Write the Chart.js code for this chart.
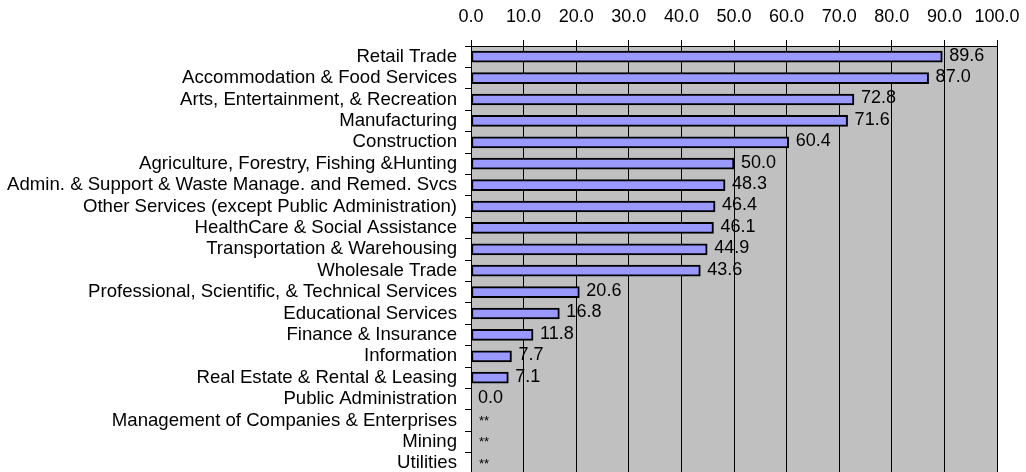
<!DOCTYPE html>
<html>
<head>
<meta charset="utf-8">
<script src="https://cdn.jsdelivr.net/npm/chart.js@4.4.0/dist/chart.umd.min.js"></script>
<style>
  html, body { margin: 0; padding: 0; background: #fff; overflow: hidden; }
  #wrap { position: relative; width: 1026px; height: 474px; }
</style>
</head>
<body>
<div id="wrap"><canvas id="chart"></canvas></div>
<script>
const categories = [
  'Retail Trade',
  'Accommodation & Food Services',
  'Arts, Entertainment, & Recreation',
  'Manufacturing',
  'Construction',
  'Agriculture, Forestry, Fishing &Hunting',
  'Admin. & Support & Waste Manage. and Remed. Svcs',
  'Other Services (except Public Administration)',
  'HealthCare & Social Assistance',
  'Transportation & Warehousing',
  'Wholesale Trade',
  'Professional, Scientific, & Technical Services',
  'Educational Services',
  'Finance & Insurance',
  'Information',
  'Real Estate & Rental & Leasing',
  'Public Administration',
  'Management of Companies & Enterprises',
  'Mining',
  'Utilities'
];
const values = [89.6, 87.0, 72.8, 71.6, 60.4, 50.0, 48.3, 46.4, 46.1, 44.9, 43.6,
  20.6, 16.8, 11.8, 7.7, 7.1, 0.0, null, null, null];
// suppressed values are shown as "**"
const valueLabels = ['89.6', '87.0', '72.8', '71.6', '60.4', '50.0', '48.3', '46.4', '46.1', '44.9', '43.6',
  '20.6', '16.8', '11.8', '7.7', '7.1', '0.0', '**', '**', '**'];
const xTicks = [0, 10, 20, 30, 40, 50, 60, 70, 80, 90, 100];

const FONT = '"Liberation Sans", Arial, sans-serif';

const plotBg = {
  id: 'plotBg',
  beforeDraw(chart) {
    const { ctx, chartArea: a } = chart;
    ctx.save();
    ctx.fillStyle = '#c0c0c0';
    ctx.fillRect(a.left, a.top, a.right - a.left, a.bottom - a.top);
    ctx.restore();
  }
};

const valueText = {
  id: 'valueText',
  afterDatasetsDraw(chart) {
    const { ctx } = chart;
    const meta = chart.getDatasetMeta(0);
    const xScale = chart.scales.x;
    ctx.save();
    ctx.fillStyle = '#000';
    ctx.textAlign = 'left';
    ctx.textBaseline = 'middle';
    meta.data.forEach((bar, i) => {
      const txt = valueLabels[i];
      const v = values[i] == null ? 0 : values[i];
      const x = xScale.getPixelForValue(v) + 7;
      if (txt === '**') {
        ctx.font = '13px ' + FONT;
        ctx.fillText(txt, x + 1, bar.y + 1);
      } else {
        ctx.font = '18px ' + FONT;
        ctx.fillText(txt, x, bar.y - 1);
      }
    });
    ctx.restore();
  }
};

new Chart(document.getElementById('chart'), {
  type: 'bar',
  data: {
    labels: categories,
    datasets: [{
      data: values,
      backgroundColor: '#9999ff',
      borderColor: '#000',
      borderWidth: 2,
      borderSkipped: false,
      barThickness: 11
    }]
  },
  options: {
    indexAxis: 'y',
    responsive: true,
    maintainAspectRatio: false,
    animation: false,
    layout: { padding: { left: 0, right: 29, top: 0, bottom: 0 } },
    plugins: {
      legend: { display: false },
      tooltip: { enabled: false }
    },
    scales: {
      x: {
        position: 'top',
        min: 0,
        max: 100,
        afterBuildTicks: scale => { scale.ticks = xTicks.map(v => ({ value: v })); },
        afterFit: scale => {
          scale.height = 46;
          scale.paddingLeft = 0;
          scale.paddingRight = 0;
        },
        ticks: {
          color: '#000',
          font: { family: FONT, size: 18 },
          padding: 12,
          maxRotation: 0,
          callback: v => Number(v).toFixed(1)
        },
        grid: { color: '#000', lineWidth: 1, tickLength: 6 },
        border: { color: '#000', width: 1 }
      },
      y: {
        afterFit: scale => {
          scale.width = 471;
          scale.paddingTop = 0;
          scale.paddingBottom = 0;
        },
        ticks: {
          color: '#000',
          font: { family: FONT, size: 18.6 },
          padding: 8,
          autoSkip: false
        },
        grid: { drawOnChartArea: false, color: '#000', tickLength: 6, offset: true },
        border: { color: '#000', width: 1 }
      }
    }
  },
  plugins: [plotBg, valueText]
});
</script>
</body>
</html>
